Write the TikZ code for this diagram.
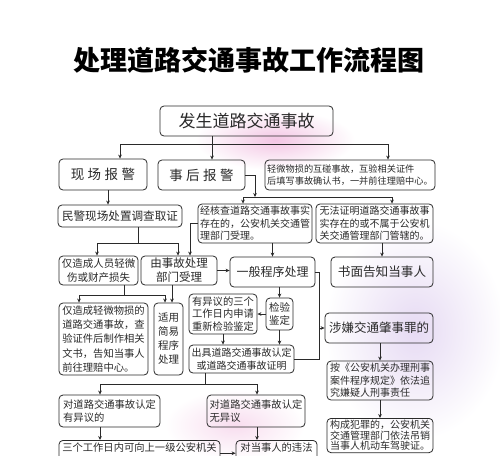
\documentclass[tikz,border=0pt]{standalone}
\usepackage{fontspec}
\setmainfont{Noto Sans CJK SC}
\usetikzlibrary{positioning,arrows.meta}
\definecolor{ink}{HTML}{2A2A2A}
\definecolor{blush}{HTML}{F3C6E4}
\definecolor{lilac}{HTML}{E6DAF3}
\newcommand\fsz[2]{\fontsize{#1pt}{#2pt}\selectfont}
\newcommand\kgap{\hspace{3.5pt}}
\tikzset{
  flow/.style={-{Stealth[length=4pt,width=3.6pt]}, line width=0.7pt, color=ink},
  wire/.style={line width=0.7pt, color=ink},
  box/.style={draw=ink, rounded corners=4pt, line width=0.8pt, inner xsep=2pt, inner ysep=2pt,
    text=ink, align=#1},
  box/.default=left,
  ttl/.style={font=\fsz{27}{30}\bfseries, text=black},
}

\begin{document}
\begin{tikzpicture}[x=1pt,y=-1pt]
  \useasboundingbox (0,0) rectangle (500,455);
  \clip (0,0) rectangle (500,455);
  % washed background
  \fill[white] (0,0) rectangle (500,455);
  \shade[inner color=blush, outer color=white] (275,140) ellipse (80pt and 30pt);
  \shade[inner color=lilac, outer color=white] (415,330) ellipse (90pt and 110pt);
  \shade[inner color=blush!60, outer color=white] (235,425) ellipse (70pt and 35pt);

  \node[ttl] (title) at (249,60) {处理道路交通事故工作流程图};

  % boxes
  \node[box=center, minimum width=173pt, minimum height=30pt, font=\fsz{17}{20}] (accident) at (246.5,121) {发生道路交通事故};
  \node[box=center, minimum width=88pt, minimum height=31pt, font=\fsz{13.5}{16}] (onsite) at (103,174.5) {现\kgap{}场\kgap{}报\kgap{}警};
  \node[box=center, minimum width=87pt, minimum height=30pt, font=\fsz{13.5}{16}] (later) at (201.5,175) {事\kgap{}后\kgap{}报\kgap{}警};
  \node[box, minimum width=170pt, minimum height=30pt, font=\fsz{9.2}{12.5}] (minor) at (350,175) {轻微物损的互碰事故，互验相关证件\\后填写事故确认书，一并前往理赔中心。};
  \node[box=center, minimum width=124pt, minimum height=22pt, font=\fsz{11.6}{14}] (police) at (120,216) {民警现场处置调查取证};
  \node[box, minimum width=114pt, minimum height=39pt, font=\fsz{10}{12.5}] (verified) at (255,223.5) {经核查道路交通事故事实\\存在的，公安机关交通管\\理部门受理。};
  \node[box, minimum width=117pt, minimum height=39pt, font=\fsz{10}{12.5}] (unproven) at (374.5,223.5) {无法证明道路交通事故事\\实存在的或不属于公安机\\关交通管理部门管辖的。};
  \node[box=center, minimum width=79pt, minimum height=29pt, font=\fsz{10.5}{13.5}] (injury) at (98.5,270.5) {仅造成人员轻微\\伤或财产损失};
  \node[box=center, minimum width=76pt, minimum height=29pt, font=\fsz{11.5}{14}] (accept) at (179,270.5) {由事故处理\\部门受理};
  \node[box=center, minimum width=85pt, minimum height=30pt, font=\fsz{12}{14}] (general) at (272.5,272) {一般程序处理};
  \node[box=center, minimum width=102pt, minimum height=30pt, font=\fsz{12.6}{15}] (notify) at (382,272) {书面告知当事人};
  \node[box, minimum width=89pt, minimum height=72pt, font=\fsz{10.3}{14.2}] (damage) at (103.5,339) {仅造成轻微物损的\\道路交通事故，查\\验证件后制作相关\\文书，告知当事人\\前往理赔中心。};
  \node[box=center, minimum width=29pt, minimum height=72pt, font=\fsz{10.5}{14}] (simple) at (168.5,339) {适用\\简易\\程序\\处理};
  \node[box, minimum width=68pt, minimum height=40pt, font=\fsz{10.3}{12.8}] (recheck) at (223,314) {有异议的三个\\工作日内申请\\重新检验鉴定};
  \node[box=center, minimum width=27pt, minimum height=32pt, font=\fsz{10.5}{13}] (inspect) at (279.5,314) {检验\\鉴定};
  \node[box=center, minimum width=105pt, minimum height=28pt, font=\fsz{10}{12.5}] (finding) at (241.5,359) {出具道路交通事故认定\\或道路交通事故证明};
  \node[box=center, minimum width=108pt, minimum height=30pt, font=\fsz{12.5}{15}] (crime) at (379,328) {涉嫌交通肇事罪的};
  \node[box, minimum width=106pt, minimum height=39pt, font=\fsz{10}{12.5}] (pursue) at (380,380.5) {按《公安机关办理刑事\\案件程序规定》依法追\\究嫌疑人刑事责任};
  \node[box, anchor=north, minimum width=106pt, font=\fsz{10}{10.5}] (revoke) at (380,418) {构成犯罪的，公安机关\\交通管理部门依法吊销\\当事人机动车驾驶证。};
  \node[box, minimum width=101pt, minimum height=32pt, font=\fsz{10.3}{13}] (dispute) at (109.5,411) {对道路交通事故认定\\有异议的};
  \node[box, minimum width=98pt, minimum height=32pt, font=\fsz{10.3}{13}] (agree) at (256,411) {对道路交通事故认定\\无异议};
  \node[box, anchor=north, minimum width=161pt, font=\fsz{10.3}{13}] (appeal) at (139.5,440) {三个工作日内可向上一级公安机关\\\mbox{}};
  \node[box, anchor=north, minimum width=81pt, font=\fsz{10.3}{13}] (penalty) at (276.5,440) {对当事人的违法\\\mbox{}};

  % first split
  \coordinate (fork1) at (212,144);
  \coordinate (fork1l) at (120,144);
  \coordinate (fork1r) at (388,144);
  \draw[flow] (fork1 |- accident.south) -- (fork1 |- later.north);
  \draw[wire] (fork1l) -- (fork1r);
  \draw[flow] (fork1l) -- (fork1l |- onsite.north);
  \draw[flow] (fork1r) -- (fork1r |- minor.north);

  % after the event
  \coordinate (fork2) at (255,197);
  \coordinate (fork2l) at (243,197);
  \coordinate (fork2r) at (392,197);
  \draw[flow] (later.east) -| (fork2);
  \draw[wire] (fork2l) -- (fork2r);
  \draw[flow] (fork2l) -- (fork2l |- verified.north);
  \draw[flow] (fork2r) -- (fork2r |- unproven.north);

  % on the spot
  \draw[flow] ([xshift=5pt]onsite.south) -- ([xshift=5pt]onsite.south |- police.north);
  \coordinate (fork3) at (138,243);
  \coordinate (fork3l) at (97,243);
  \coordinate (fork3r) at (178,243);
  \coordinate (side) at (190,243);
  \draw[wire] (fork3 |- police.south) -- (fork3);
  \draw[wire] (fork3l) -- (fork3r);
  \draw[flow] (fork3l) -- (fork3l |- injury.north);
  \draw[flow] (fork3r) -- (fork3r |- accept.north);
  \draw[flow] (verified.west) -| (side |- accept.north);
  \draw[flow] (accept.east) -- (accept.east -| general.west);
  \draw[flow] (general.north |- verified.south) -- (general.north);
  \draw[flow] (notify.north |- unproven.south) -- (notify.north);

  \coordinate (fork4) at (124,295);
  \coordinate (fork4l) at (79,295);
  \coordinate (fork4r) at (165,295);
  \draw[wire] (fork4 |- injury.south) -- (fork4);
  \draw[wire] (fork4l) -- (fork4r);
  \draw[flow] (fork4l) -- (fork4l |- damage.north);
  \draw[flow] (fork4r) -- (fork4r |- simple.north);
  \draw[flow] ([xshift=-7pt]accept.south) -- ([xshift=-7pt]accept.south |- simple.north);

  % general procedure
  \draw[flow] (inspect.north |- general.south) -- (inspect.north);
  \draw[flow] (inspect.west) -- (recheck.east);
  \draw[flow] (inspect.south) -- (inspect.south |- finding.north);
  \draw[flow] (recheck.south) -- (recheck.south |- finding.north);
  \coordinate (rail) at (319,300);
  \draw[wire] (general.east) -| (rail |- finding.east) -- (finding.east);
  \draw[flow] (rail |- crime.west) -- (crime.west);
  \draw[flow] (pursue.north |- crime.south) -- (pursue.north);
  \draw[flow] (pursue.south) -- (revoke.north);

  \coordinate (fork5) at (205,384);
  \coordinate (fork5l) at (100,384);
  \coordinate (fork5r) at (257,384);
  \draw[wire] (fork5 |- finding.south) -- (fork5);
  \draw[wire] (fork5l) -- (fork5r);
  \draw[flow] (fork5l) -- (fork5l |- dispute.north);
  \draw[flow] (fork5r) -- (fork5r |- agree.north);
  \draw[flow] (fork5l |- dispute.south) -- (fork5l |- appeal.north);
  \draw[flow] (fork5r |- agree.south) -- (fork5r |- penalty.north);
  \draw[flow] (appeal.east) -- (appeal.east -| penalty.west);
\end{tikzpicture}
\end{document}
